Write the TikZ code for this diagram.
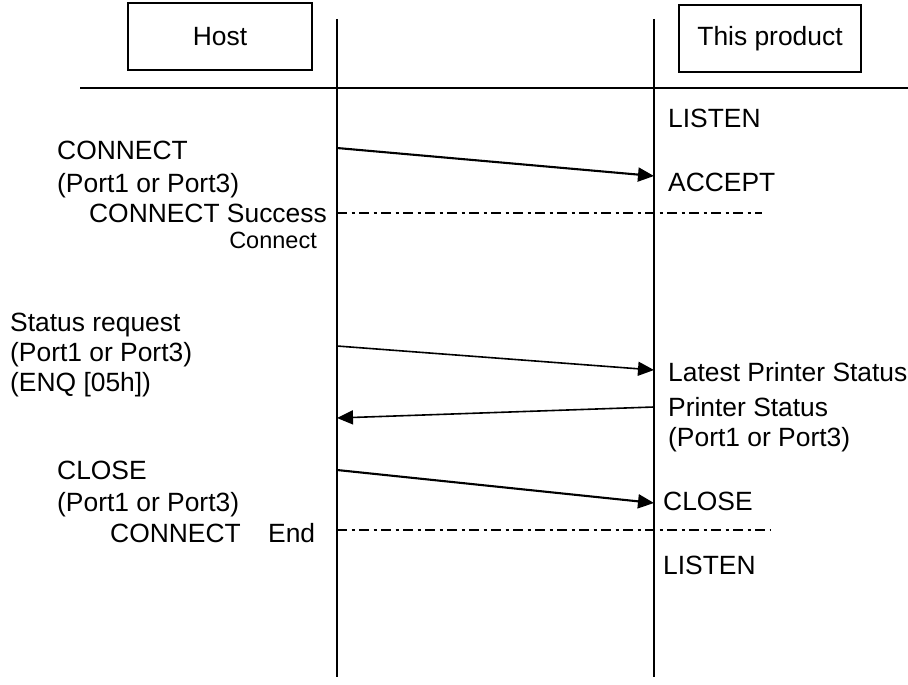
\documentclass[tikz,border=0pt]{standalone}
\usepackage{fontspec}
\setmainfont{Liberation Sans}
\usetikzlibrary{arrows.meta}
\tikzset{
  lbl/.style={inner sep=0pt, font=\fontsize{26.4}{30}\selectfont},
  small/.style={inner sep=0pt, font=\fontsize{23.5}{27}\selectfont},
  hdr/.style={draw, line width=1.2pt, inner sep=0pt, font=\fontsize{26.4}{30}\selectfont},
  life/.style={line width=1.2pt},
  msg/.style={line width=1.6pt, -{Triangle[length=16pt,width=14pt]}},
  msgthick/.style={line width=2.1pt, -{Triangle[length=16pt,width=14pt]}},
  phase/.style={line width=1.2pt, dash pattern=on 10pt off 4.5pt on 3pt off 4.5pt}
}
\begin{document}
\begin{tikzpicture}[x=1pt,y=-1pt]
\useasboundingbox (0,0) rectangle (908,685);
% header boxes
\node[hdr, minimum width=184pt, minimum height=67pt] (host) at (220,36.5) {Host};
\node[hdr, minimum width=182pt, minimum height=67pt] (prod) at (770,38.5) {This product};
% header rule
\coordinate (hl) at (80,88);
\coordinate (hr) at (908,88);
\draw[life] (hl) -- (hr);
% lifelines
\coordinate (lt) at (337,19);
\coordinate (lb) at (337,677);
\coordinate (rt) at (654,19);
\coordinate (rb) at (654,677);
\draw[life] (lt) -- (lb);
\draw[life] (rt) -- (rb);
% message end points
\coordinate (m1s) at (337,148);
\coordinate (m1e) at (654,176);
\coordinate (m2s) at (337,346);
\coordinate (m2e) at (654,370);
\coordinate (m3s) at (654,407);
\coordinate (m3e) at (337,418);
\coordinate (m4s) at (337,470);
\coordinate (m4e) at (654,503);
\draw[msgthick] (m1s) -- (m1e);
\draw[msg] (m2s) -- (m2e);
\draw[msg] (m3s) -- (m3e);
\draw[msgthick] (m4s) -- (m4e);
% phase lines
\coordinate (p1s) at (337,213);
\coordinate (p1e) at (762,213);
\coordinate (p2s) at (337,530);
\coordinate (p2e) at (770,530);
\draw[phase] (p1s) -- (p1e);
\draw[phase] (p2s) -- (p2e);
% left labels
\node[lbl, anchor=base west] (t1) at (57,159) {CONNECT};
\node[lbl, anchor=base west] (t2) at (57,192) {(Port1 or Port3)};
\node[lbl, anchor=base east] (t3) at (327,222) {CONNECT Success};
\node[small, anchor=base east] (t4) at (317,248) {Connect};
\node[lbl, anchor=base west] (t5) at (10,331) {Status request};
\node[lbl, anchor=base west] (t6) at (10,361) {(Port1 or Port3)};
\node[lbl, anchor=base west] (t7) at (10,391) {(ENQ [05h])};
\node[lbl, anchor=base west] (t8) at (57,479) {CLOSE};
\node[lbl, anchor=base west] (t9) at (57,511) {(Port1 or Port3)};
\node[lbl, anchor=base west] (t10) at (110,542) {CONNECT};
\node[lbl, anchor=base west] (t11) at (268,542) {End};
% right labels
\node[lbl, anchor=base west] (r1) at (668,128) {LISTEN};
\node[lbl, anchor=base west] (r2) at (668,191) {ACCEPT};
\node[lbl, anchor=base west] (r3) at (668,381) {Latest Printer Status};
\node[lbl, anchor=base west] (r4) at (668,416) {Printer Status};
\node[lbl, anchor=base west] (r5) at (668,446) {(Port1 or Port3)};
\node[lbl, anchor=base west] (r6) at (663,510) {CLOSE};
\node[lbl, anchor=base west] (r7) at (663,574) {LISTEN};
\end{tikzpicture}
\end{document}
